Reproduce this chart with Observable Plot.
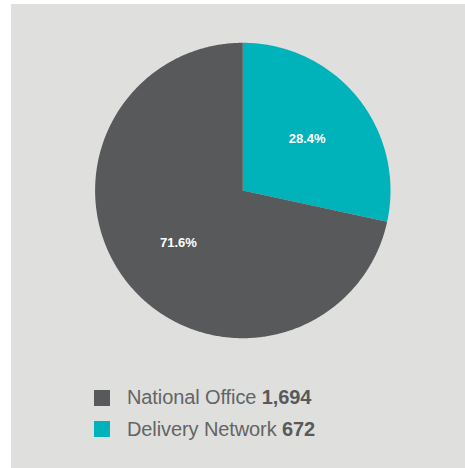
<!DOCTYPE html>
<html>
<head>
<meta charset="utf-8">
<script src="https://cdn.jsdelivr.net/npm/d3@7"></script>
<script src="https://cdn.jsdelivr.net/npm/@observablehq/plot@0.6"></script>
<style>
  html, body { margin: 0; padding: 0; background: #ffffff; }
  #panel { position: absolute; left: 11px; top: 4px; width: 454px; height: 464px; background: #dfe0dd; font-family: "Liberation Sans", Arial, sans-serif; }
  #legend { position: absolute; left: 83px; top: 378px; }
  .row { display: flex; align-items: center; height: 31.5px; font-size: 20px; color: #636466; letter-spacing: -0.1px; }
  .sw { width: 16px; height: 16px; margin-right: 17px; }
  .row b { color: #58595b; }
</style>
</head>
<body>
<div id="panel"><div id="chart"></div><div id="legend"></div></div>
<script>
// Data
const categories = ["National Office", "Delivery Network"];
const values = [1694, 672];
const colors = ["#58595b", "#00b2b9"];
// drawing order around the pie (clockwise from 12 o'clock)
const pieOrder = ["Delivery Network", "National Office"];

const total = d3.sum(values);
const rows = categories.map((c, i) => ({key: c, value: values[i], color: colors[i], pct: values[i] / total}));
const ordered = pieOrder.map(k => rows.find(r => r.key === k));
const arcs = d3.pie().sort(null).value(d => d.value)(ordered);

const pts = [];
arcs.forEach(a => {
  const k = a.data.key;
  pts.push({key: k, x: 0, y: 0});
  const n = Math.max(2, Math.ceil((a.endAngle - a.startAngle) / (Math.PI / 360)));
  for (let i = 0; i <= n; i++) {
    const t = a.startAngle + (a.endAngle - a.startAngle) * i / n;
    pts.push({key: k, x: Math.sin(t), y: Math.cos(t)});
  }
  pts.push({key: k, x: 0, y: 0});
});
const labels = arcs.map(a => {
  const m = (a.startAngle + a.endAngle) / 2;
  const r = 0.56;
  return {text: (a.data.pct * 100).toFixed(1) + "%", x: r * Math.sin(m), y: r * Math.cos(m)};
});

const cx = 231.3, cy = 186, R = 147.7;
const chart = Plot.plot({
  width: 454,
  height: 372,
  margin: 0,
  x: {domain: [-1, 1], range: [cx - R, cx + R], axis: null},
  y: {domain: [-1, 1], range: [cy + R, cy - R], axis: null},
  color: {domain: categories, range: colors},
  style: {background: "transparent", fontFamily: "'Liberation Sans', Arial, sans-serif"},
  marks: [
    Plot.line(pts, {x: "x", y: "y", z: "key", fill: "key", stroke: null, curve: "linear"}),
    Plot.text(labels, {x: "x", y: "y", text: "text", fill: "white", fontSize: 13, fontWeight: "bold"})
  ]
});
document.getElementById("chart").appendChild(chart);

const legend = document.getElementById("legend");
rows.forEach(r => {
  const row = document.createElement("div");
  row.className = "row";
  const sw = document.createElement("div");
  sw.className = "sw";
  sw.style.background = r.color;
  row.appendChild(sw);
  const span = document.createElement("span");
  span.innerHTML = r.key + " <b>" + d3.format(",")(r.value) + "</b>";
  row.appendChild(span);
  legend.appendChild(row);
});
</script>
</body>
</html>
